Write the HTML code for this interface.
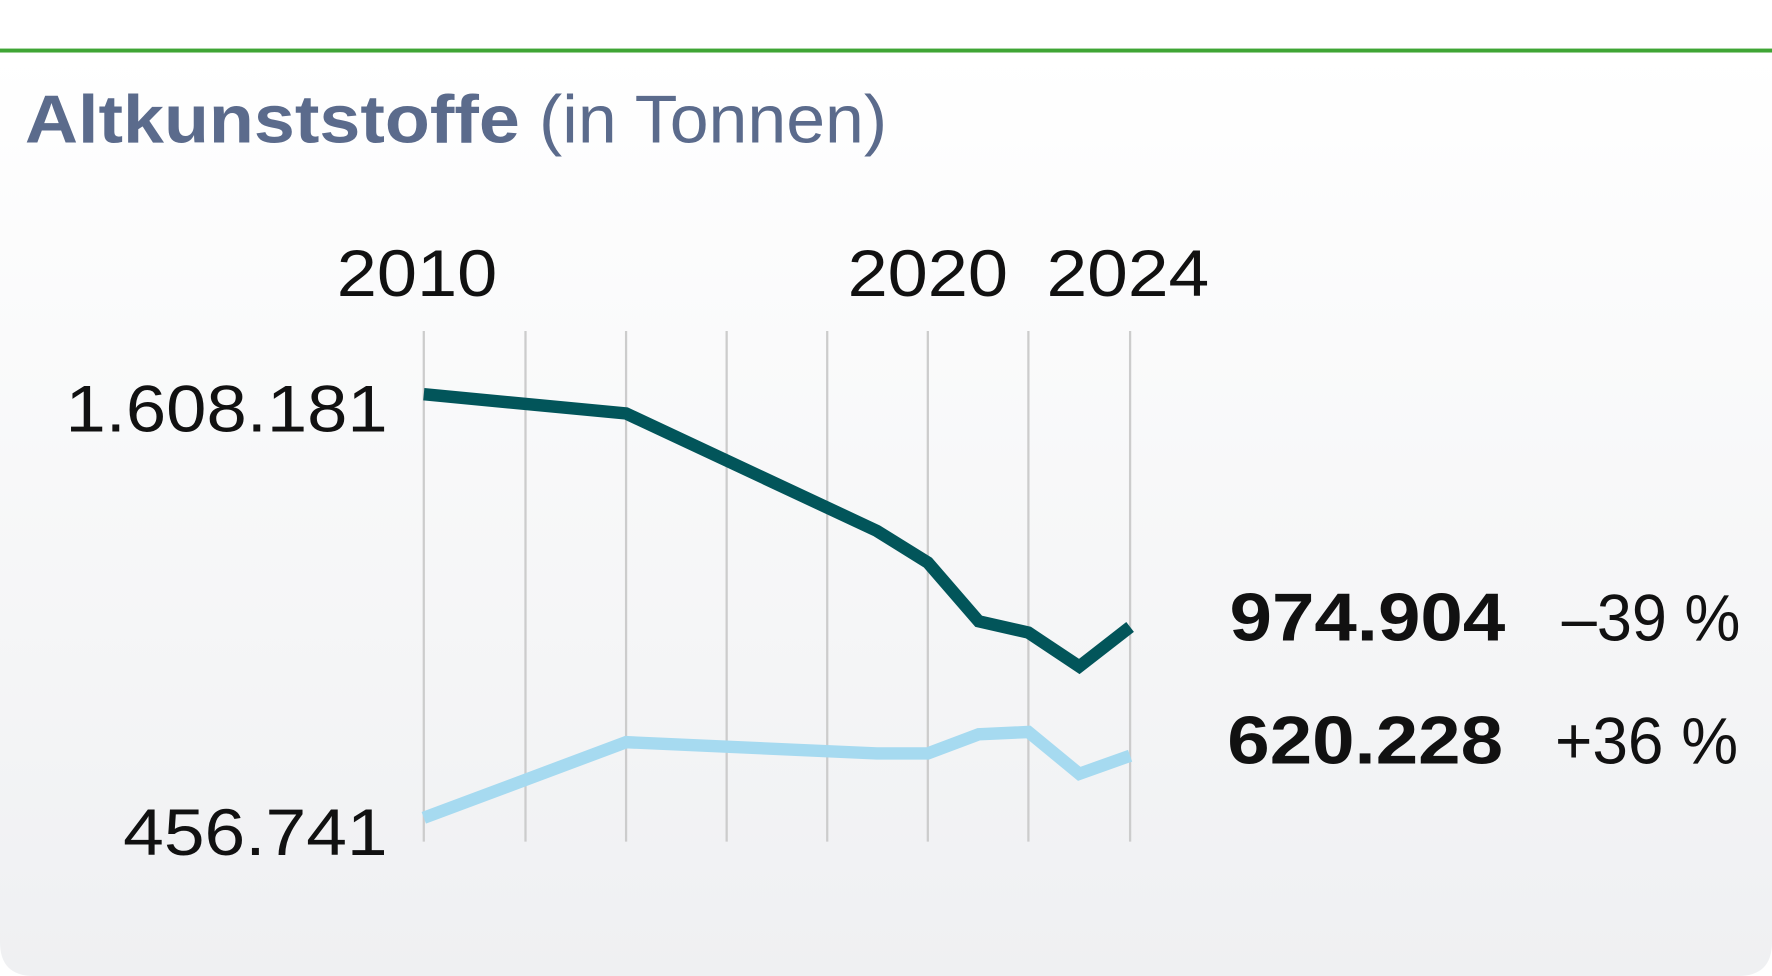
<!DOCTYPE html>
<html><head><meta charset="utf-8"><style>
html,body{margin:0;padding:0;width:1772px;height:976px;overflow:hidden;background:#fff}
svg{display:block}
</style></head><body>
<svg width="1772" height="976" viewBox="0 0 1568 864" preserveAspectRatio="none" xmlns="http://www.w3.org/2000/svg">
<defs><linearGradient id="bg" x1="0" y1="0" x2="0" y2="1">
<stop offset="0" stop-color="#ffffff"/><stop offset="1" stop-color="#eff0f2"/></linearGradient></defs>
<rect x="0" y="0" width="1568" height="864" fill="#fff"/>
<path d="M0 46 H1568 V834 Q1568 864 1538 864 H30 Q0 864 0 834 Z" fill="url(#bg)"/>
<rect x="0" y="43" width="1568" height="3.5" fill="#3fa535"/>
<g font-family="'Liberation Sans Narrow','Liberation Sans',sans-serif">
<text x="22" y="126" font-size="60" font-weight="bold" fill="#5b6b8c" textLength="438" lengthAdjust="spacingAndGlyphs">Altkunststoffe</text>
<text x="477" y="126" font-size="60" fill="#5b6b8c" textLength="308" lengthAdjust="spacingAndGlyphs">(in Tonnen)</text>
<g font-size="58" fill="#111">
<text x="298" y="262" textLength="142" lengthAdjust="spacingAndGlyphs">2010</text>
<text x="750" y="262" textLength="142" lengthAdjust="spacingAndGlyphs">2020</text>
<text x="926" y="262" textLength="144" lengthAdjust="spacingAndGlyphs">2024</text>
<text x="58" y="382" textLength="285" lengthAdjust="spacingAndGlyphs">1.608.181</text>
<text x="109" y="757" textLength="234" lengthAdjust="spacingAndGlyphs">456.741</text>
<text x="1382" y="567" textLength="158" lengthAdjust="spacingAndGlyphs">–39 %</text>
<text x="1376" y="676" textLength="162" lengthAdjust="spacingAndGlyphs">+36 %</text>
</g>
<g font-size="60" font-weight="bold" fill="#111">
<text x="1088" y="567" textLength="244" lengthAdjust="spacingAndGlyphs">974.904</text>
<text x="1086" y="676" textLength="244" lengthAdjust="spacingAndGlyphs">620.228</text>
</g>
</g>
<g stroke="#cccccc" stroke-width="2">
<line x1="375" y1="293" x2="375" y2="745"/><line x1="465" y1="293" x2="465" y2="745"/>
<line x1="554" y1="293" x2="554" y2="745"/><line x1="643" y1="293" x2="643" y2="745"/>
<line x1="732" y1="293" x2="732" y2="745"/><line x1="821" y1="293" x2="821" y2="745"/>
<line x1="910" y1="293" x2="910" y2="745"/><line x1="1000" y1="293" x2="1000" y2="745"/>
</g>
<polyline fill="none" stroke="#a6daf0" stroke-width="11" points="375,724 554,657 776,667 821,667 866,650 910,648 955,685 1000,669"/>
<polyline fill="none" stroke="#02555a" stroke-width="11" points="375,349 554,366 776,470 821,498 866,550 910,560 955,590 1000,555"/>
</svg>
</body></html>
